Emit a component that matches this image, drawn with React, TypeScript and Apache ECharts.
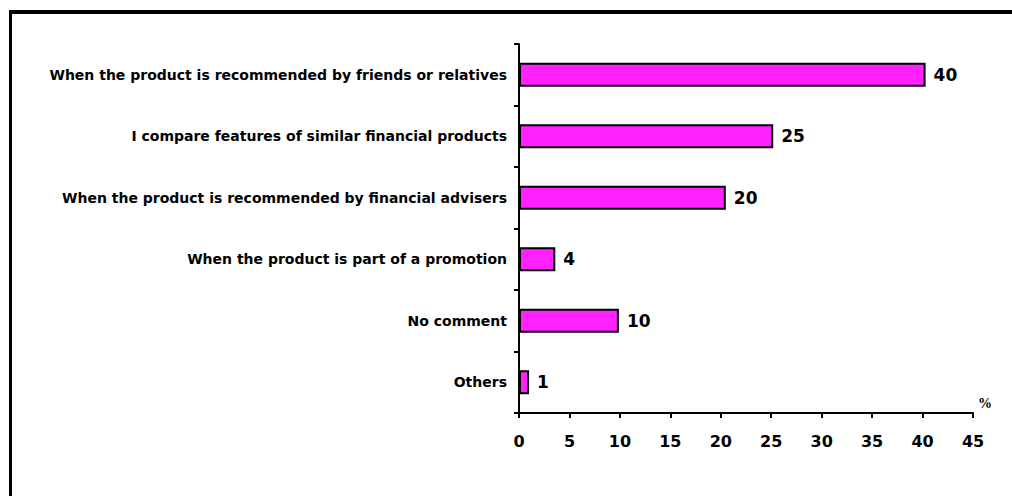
import React, { useEffect, useRef } from "react";
import * as echarts from "echarts";

const categories = [
  "When the product is recommended by friends or relatives",
  "I compare features of similar financial products",
  "When the product is recommended by financial advisers",
  "When the product is part of a promotion",
  "No comment",
  "Others",
];
const barValues = [40.3, 25.2, 20.5, 3.6, 9.9, 1.0];
const labelValues = [40, 25, 20, 4, 10, 1];
const xTicks = { min: 0, max: 45, interval: 5 };
const unitLabel = "%";

export default function App() {
  const ref = useRef<HTMLDivElement>(null);
  useEffect(() => {
    if (!ref.current) return;
    const chart = echarts.init(ref.current, null, { renderer: "svg" });
    const font = "'DejaVu Sans', sans-serif";
    chart.setOption({
      animation: false,
      backgroundColor: "#ffffff",
      grid: { left: 519, right: 39, top: 44, bottom: 83, containLabel: false },
      xAxis: {
        type: "value",
        min: xTicks.min,
        max: xTicks.max,
        interval: xTicks.interval,
        splitLine: { show: false },
        axisLine: { show: true, lineStyle: { color: "#000", width: 2 } },
        axisTick: { show: true, length: 5, lineStyle: { color: "#000", width: 2 } },
        axisLabel: {
          margin: 20,
          color: "#000",
          fontFamily: font,
          fontWeight: "bold",
          fontSize: 16,
        },
      },
      yAxis: {
        type: "category",
        data: categories,
        inverse: true,
        axisLine: { show: true, lineStyle: { color: "#000", width: 2 } },
        axisTick: { show: true, length: 5, lineStyle: { color: "#000", width: 2 } },
        axisLabel: {
          margin: 12,
          color: "#000",
          fontFamily: font,
          fontWeight: "bold",
          fontSize: 14,
        },
      },
      series: [
        {
          type: "bar",
          data: barValues,
          barWidth: 24,
          itemStyle: { color: "#ff22ff", borderColor: "#000", borderWidth: 2 },
          label: {
            show: true,
            position: "right",
            distance: 8,
            color: "#000",
            fontFamily: font,
            fontWeight: "bold",
            fontSize: 17,
            formatter: (p: any) => String(labelValues[p.dataIndex]),
          },
        },
      ],
      graphic: [
        { type: "rect", shape: { x: 9, y: 10, width: 1003, height: 4 }, style: { fill: "#000" } },
        { type: "rect", shape: { x: 9, y: 10, width: 3, height: 486 }, style: { fill: "#000" } },
        {
          type: "text",
          x: 978,
          y: 396,
          style: {
            text: unitLabel,
            fill: "#000",
            font: "bold 14px 'Liberation Serif', 'Times New Roman', serif",
          },
        },
      ],
    });
    return () => chart.dispose();
  }, []);
  return (
    <div
      ref={ref}
      style={{ position: "fixed", left: 0, top: 0, width: 1012, height: 496 }}
    />
  );
}
